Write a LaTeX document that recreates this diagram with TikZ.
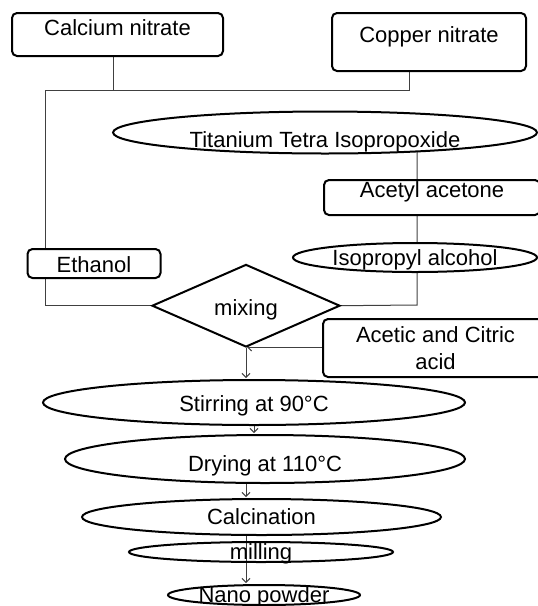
\documentclass[tikz,border=0pt]{standalone}
\usepackage{fontspec}
\setmainfont{Liberation Sans}
\usetikzlibrary{shapes.geometric,arrows.meta,backgrounds}

\begin{document}
\begin{tikzpicture}[x=1pt, y=-1pt,
    every node/.style={font=\fontsize{22}{27}\selectfont, text=black, inner sep=0pt},
    box/.style={draw, line width=2pt, rounded corners=5pt, fill=white},
    oval/.style={draw, ellipse, line width=2pt, fill=white},
    link/.style={line width=1pt, draw=black!75},
    flow/.style={link, shorten >=1pt, -{Straight Barb[length=4pt, width=8pt]}}]

    \useasboundingbox (0,0) rectangle (538,606);
    \clip (0,0) rectangle (538,606);

    % starting salts
    \node [box, minimum width=211, minimum height=43, text height=16pt, text depth=15pt] (calcium) at (117.5,34.5) {Calcium nitrate};
    \node [box, minimum width=194, minimum height=58, text height=16pt, text depth=16pt] (copper) at (429,42) {Copper nitrate};

    % titanium branch
    \node [oval, minimum width=424, minimum height=42, text height=29pt, text depth=0pt] (tita) at (325,132.5) {Titanium Tetra Isopropoxide};
    \node [box, minimum width=216, minimum height=35, text height=16pt, text depth=17pt] (acetyl) at (432,197.5) {Acetyl acetone};
    \node [oval, minimum width=244, minimum height=29, text height=15pt, text depth=0pt] (iso) at (415,257.5) {Isopropyl alcohol};

    \node [box, minimum width=133, minimum height=29, text height=18pt, text depth=0pt] (ethanol) at (94,263.5) {Ethanol};

    % mixing
    \node [diamond, draw, line width=2pt, fill=white, minimum width=188, minimum height=70, text height=19pt, text depth=0pt] (mix) at (246,305.7) {mixing};
    \node [box, minimum width=225, minimum height=58, align=center] (acid) at (435.5,348) {Acetic and Citric\\acid};

    % processing
    \node [oval, minimum width=422, minimum height=45, text height=17pt, text depth=0pt] (stir) at (254,402.5) {Stirring at 90°C};
    \node [oval, minimum width=400, minimum height=48, text height=24pt, text depth=0pt] (dry) at (265,459) {Drying at 110°C};
    \node [oval, minimum width=359, minimum height=36, text height=14pt, text depth=0pt] (calc) at (261.5,517) {Calcination};
    \node [oval, fill=none, minimum width=264, minimum height=20, text height=14pt, text depth=-2pt] (mill) at (261,552) {milling};
    \node [oval, minimum width=192, minimum height=20, text height=14pt, text depth=0pt] (nano) at (264,595) {Nano powder};

    % junctions
    \coordinate (cn) at (113,90);
    \coordinate (jl) at (45,90);
    \coordinate (jr) at (409,90);
    \coordinate (jx) at (417,305);
    \coordinate (ja) at (246,347);

    \begin{scope}[on background layer]
        \draw [link] (cn |- calcium.south) -- (cn);
        \draw [link] (jr |- copper.south) -- (jr) -- (jl) |- (mix.west);
        \draw [link] (jx |- tita.center) -- (jx) -- (mix.east);

        \draw [flow] (ja -| acid.west) -- (ja);
        \draw [flow] (mix.south) -- (mix.south |- stir.north);
        \draw [flow] (stir.south) -- (stir.south |- dry.north);
        \draw [flow] (mix.south |- dry.south) -- (mix.south |- calc.north);
        \draw [flow] (mix.south |- calc.south) -- (mix.south |- nano.north);
    \end{scope}

\end{tikzpicture}
\end{document}
